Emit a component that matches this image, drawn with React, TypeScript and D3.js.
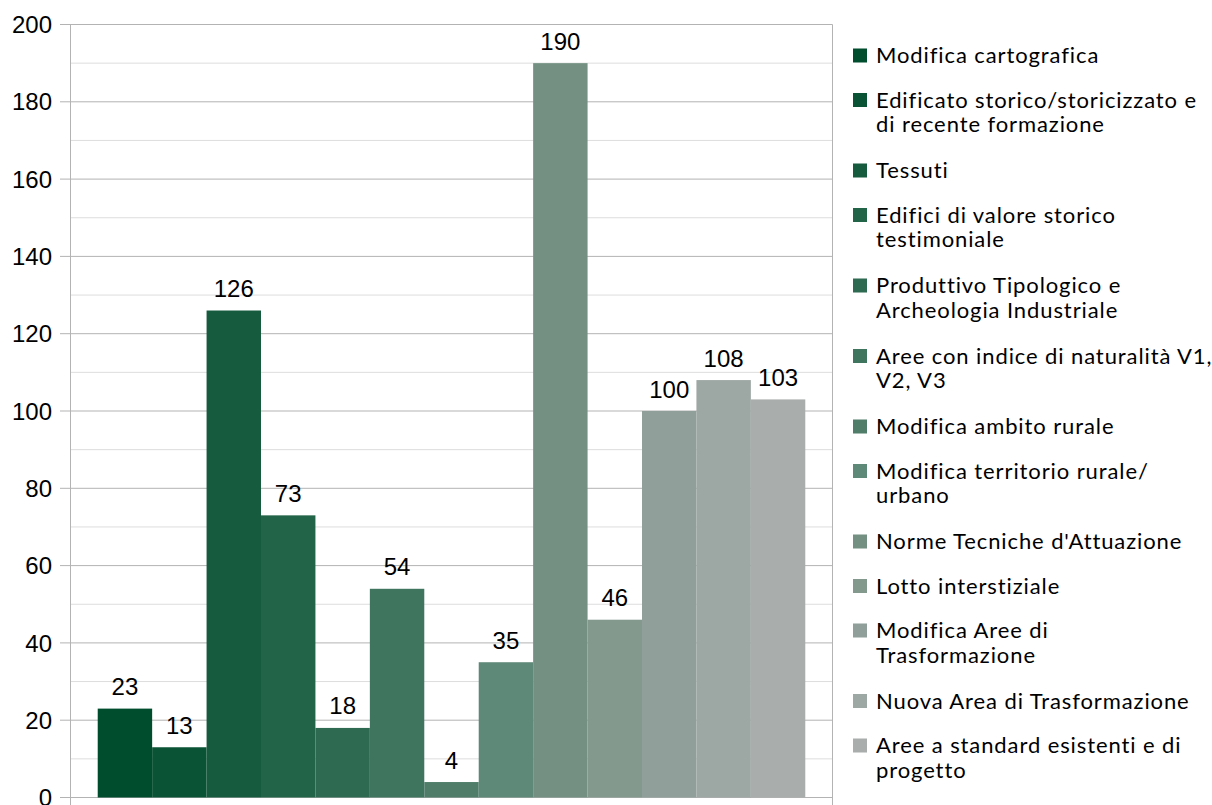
import React from "react";
import * as d3 from "d3";

const categories = [
  "Modifica cartografica",
  "Edificato storico/storicizzato e|di recente formazione",
  "Tessuti",
  "Edifici di valore storico|testimoniale",
  "Produttivo Tipologico e|Archeologia Industriale",
  "Aree con indice di naturalità V1,|V2, V3",
  "Modifica ambito rurale",
  "Modifica territorio rurale/|urbano",
  "Norme Tecniche d'Attuazione",
  "Lotto interstiziale",
  "Modifica Aree di|Trasformazione",
  "Nuova Area di Trasformazione",
  "Aree a standard esistenti e di|progetto",
];
const values = [23, 13, 126, 73, 18, 54, 4, 35, 190, 46, 100, 108, 103];
const colors = [
  "#004d2e", "#0a5335", "#165b3e", "#216447", "#2d6a51", "#3f745e",
  "#4f7d6a", "#5e8877", "#739082", "#83998e", "#909f99", "#9da7a3", "#a9adab",
];
const yTicks = [0, 20, 40, 60, 80, 100, 120, 140, 160, 180, 200];
const yMinor = [10, 30, 50, 70, 90, 110, 130, 150, 170, 190];

export default function App() {
  const W = 1212, H = 805;
  const left = 70.5, right = 832.5, top = 24.5, bottom = 797.5;
  const y = d3.scaleLinear().domain([0, 200]).range([bottom, top]);
  const x = d3.scaleBand<number>().domain(d3.range(values.length)).range([left, right]).paddingInner(0).paddingOuter(0.5);

  // legend layout
  const lineH = 24.5;
  let cy = 55.5;
  const legend = categories.map((c, i) => {
    const lines = c.split("|");
    const item = { lines, cy, color: colors[i] };
    cy += lines.length === 1 ? 44.5 : 70.5;
    return item;
  });

  return (
    <svg width={W} height={H} style={{ position: "absolute", left: 0, top: 0, background: "#fff" }}>
      {yMinor.map((t) => (
        <line key={"m" + t} x1={left} x2={right} y1={y(t)} y2={y(t)} stroke="#dddddd" strokeWidth={1} />
      ))}
      {yTicks.map((t) => (
        <g key={"t" + t}>
          <line x1={60} x2={right} y1={y(t)} y2={y(t)} stroke="#b3b3b3" strokeWidth={1} />
          <text x={52} y={y(t)} dy="0.36em" textAnchor="end" fontFamily="Liberation Sans, Arial, sans-serif" fontSize={24} fill="#000">
            {t}
          </text>
        </g>
      ))}
      <line x1={left} x2={left} y1={top} y2={H} stroke="#b3b3b3" strokeWidth={1} />
      <line x1={right} x2={right} y1={top} y2={H} stroke="#b3b3b3" strokeWidth={1} />
      {values.map((v, i) => (
        <rect key={"b" + i} x={x(i)} y={y(v)} width={x.bandwidth()} height={y(0) - y(v)} fill={colors[i]} />
      ))}
      {values.map((v, i) => (
        <text key={"l" + i} x={(x(i) as number) + x.bandwidth() / 2} y={y(v) - 13.5} textAnchor="middle" fontFamily="Liberation Sans, Arial, sans-serif" fontSize={24} fill="#000">
          {v}
        </text>
      ))}
      {legend.map((it, i) => (
        <g key={"lg" + i}>
          <rect x={853} y={it.cy - 7} width={14} height={14} fill={it.color} />
          {it.lines.map((ln, j) => (
            <text key={j} x={876} y={it.cy + j * lineH} dy="0.35em" fontFamily="Lato, sans-serif" fontSize={22} letterSpacing={0.9} fill="#000">
              {ln}
            </text>
          ))}
        </g>
      ))}
    </svg>
  );
}
